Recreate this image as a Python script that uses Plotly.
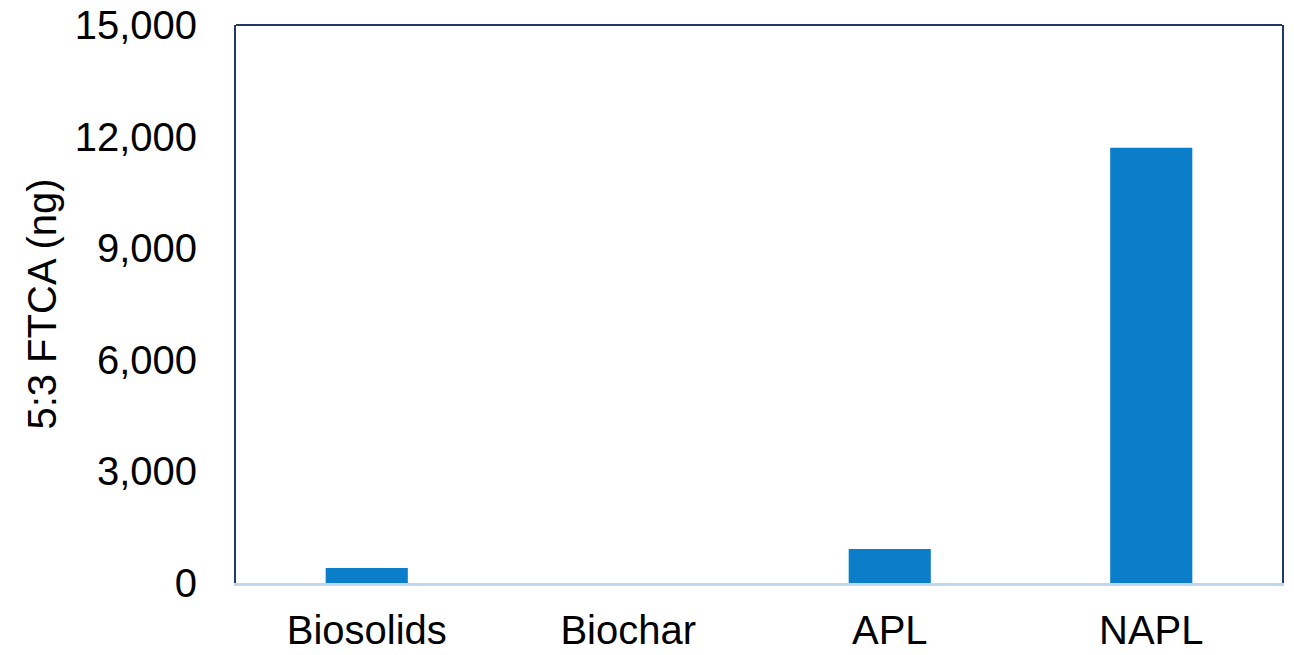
import plotly.graph_objects as go

categories = ["Biosolids", "Biochar", "APL", "NAPL"]
values = [403, 0, 914, 11700]
y_ticks = [0, 3000, 6000, 9000, 12000, 15000]
y_tick_labels = ["0", "3,000", "6,000", "9,000", "12,000", "15,000"]

NAVY = "#1F3A68"
BAR = "#0A7EC8"
BASE = "#BDD7EE"
FONT = "Liberation Sans, Arial, sans-serif"
FS = 40

fig = go.Figure(go.Bar(x=categories, y=values, marker=dict(color=BAR, line=dict(width=0)), width=0.314))

fig.update_layout(
    width=1294, height=655,
    margin=dict(l=236, r=12, t=25, b=72, autoexpand=False),
    paper_bgcolor="white", plot_bgcolor="white",
    font=dict(family=FONT, size=FS, color="black"),
    showlegend=False,
)
fig.update_xaxes(
    showline=True, linecolor=BASE, linewidth=3, mirror=False,
    showgrid=False, ticks="", ticklabelstandoff=10, automargin=False,
    ticklabeloverflow="allow",
    tickfont=dict(size=FS, family=FONT),
)
fig.update_yaxes(
    range=[0, 15000], tickvals=y_ticks, ticktext=y_tick_labels,
    showline=True, linecolor=NAVY, linewidth=2, mirror=True,
    showgrid=False, zeroline=False, ticks="", ticklabelstandoff=29,
    ticklabeloverflow="allow",
    tickfont=dict(size=FS, family=FONT), automargin=False,
    title=dict(text="5:3 FTCA (ng)", font=dict(size=FS, family=FONT), standoff=6),
)
fig.add_shape(type="line", xref="paper", yref="paper", x0=0, x1=1, y0=1, y1=1,
              line=dict(color=NAVY, width=2))

fig.write_html(
    "out.html",
    config={"displayModeBar": False},
    post_script="document.body.style.margin='0';document.body.style.overflow='hidden';",
)
